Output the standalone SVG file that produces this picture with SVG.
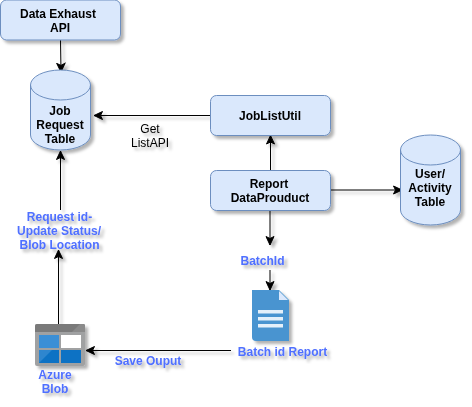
<svg xmlns="http://www.w3.org/2000/svg" width="472" height="407" viewBox="0 0 472 407">
<style>
.box{fill:#dae8fc;stroke:#6c8ebf;stroke-width:1}
.lbl{font:bold 12px "Liberation Sans",Arial,sans-serif;text-anchor:middle;fill:#000}
.blue{fill:#4f6fff}
.plain{font-weight:normal}
.conn{fill:none;stroke:#000;stroke-width:1}
</style>
<defs>
<filter id="sh" x="-20%" y="-20%" width="150%" height="150%">
<feDropShadow dx="3" dy="3" stdDeviation="1.6" flood-color="#000" flood-opacity="0.3"/>
</filter>
<marker id="arr" viewBox="0 0 10 10" refX="9.5" refY="5" markerWidth="10" markerHeight="10" markerUnits="userSpaceOnUse" orient="auto">
<path d="M1 1L9.5 5L1 9L3 5Z" fill="#000" stroke="#000"/>
</marker>
</defs>
<g id="connectors" filter="url(#sh)">
<path class="conn" marker-end="url(#arr)" d="M60.500 40L61 72"/>
<path class="conn" marker-end="url(#arr)" d="M210 115.500H94"/>
<path class="conn" marker-end="url(#arr)" d="M270.500 170V135.500"/>
<path class="conn" marker-end="url(#arr)" d="M330 190H402"/>
<path class="conn" marker-end="url(#arr)" d="M270 210V245"/>
<path class="conn" marker-end="url(#arr)" d="M270 270V290"/>
<path class="conn" marker-end="url(#arr)" d="M58.500 325V250"/>
<path class="conn" marker-end="url(#arr)" d="M60.500 210V151"/>
<path class="conn" marker-end="url(#arr)" d="M231 350.500H86"/>
</g>
<g id="data-exhaust" filter="url(#sh)">
<rect class="box" x="0.500" y="0" width="120" height="40" rx="6"/>
<text class="lbl" x="58" y="18">Data Exhaust</text><text class="lbl" x="60" y="32">API</text>
</g>
<g id="job-request" filter="url(#sh)">
<path class="box" d="M30.500 85A30 15 0 0 1 90.500 85V135A30 15 0 0 1 30.500 135Z"/>
<path class="box" style="fill:none" d="M30.500 85A30 15 0 0 0 90.500 85"/>
<text class="lbl" x="60" y="115">Job</text><text class="lbl" x="60" y="129">Request</text><text class="lbl" x="60" y="143">Table</text>
</g>
<g id="joblistutil" filter="url(#sh)">
<rect class="box" x="210.500" y="95.500" width="120" height="40" rx="6"/>
<text class="lbl" x="270" y="120">JobListUtil</text>
</g>
<g id="report" filter="url(#sh)">
<rect class="box" x="210.500" y="170.500" width="120" height="40" rx="6"/>
<text class="lbl" x="269" y="188">Report</text><text class="lbl" x="270" y="202">DataProuduct</text>
</g>
<g id="user-activity" filter="url(#sh)">
<path class="box" d="M400.500 150A30 15 0 0 1 460.500 150V210A30 15 0 0 1 400.500 210Z"/>
<path class="box" style="fill:none" d="M400.500 150A30 15 0 0 0 460.500 150"/>
<text class="lbl" x="430" y="178">User/</text><text class="lbl" x="430" y="192">Activity</text><text class="lbl" x="430" y="206">Table</text>
</g>
<g id="getlistapi" filter="url(#sh)">
<text class="lbl plain" x="150" y="133">Get</text><text class="lbl plain" x="150" y="147">ListAPI</text>
</g>
<g id="request-label" filter="url(#sh)">
<text class="lbl blue" x="59.500" y="221">Request id-</text><text class="lbl blue" x="59" y="235">Update Status/</text><text class="lbl blue" x="59.500" y="249">Blob Location</text>
</g>
<g id="azure-blob">
<g filter="url(#sh)">
<rect x="35" y="324" width="50" height="42" rx="2" fill="#a0a1a2"/>
<path d="M35 326a2 2 0 0 1 2-2H83a2 2 0 0 1 2 2V332H35Z" fill="#7a7a7a"/>
<path d="M72 332L80 324H83a2 2 0 0 1 2 2V332Z" fill="#8a8a8a"/>
<rect x="39" y="335" width="20" height="13" fill="#3a8fd6"/>
<rect x="61" y="335" width="20" height="13" fill="#fff"/>
<rect x="39" y="350" width="20" height="13" fill="#2f86cf"/>
<path d="M39 363L52 350H59V363Z" fill="#0a72c4"/>
<rect x="61" y="350" width="20" height="13" fill="#0a72c4"/>
</g>
<g filter="url(#sh)"><text class="lbl blue" x="55" y="379">Azure</text><text class="lbl blue" x="55" y="393">Blob</text></g>
</g>
<g id="save-label" filter="url(#sh)"><text class="lbl blue" x="148" y="365">Save Ouput</text></g>
<g id="batchid-label" filter="url(#sh)"><text class="lbl blue" x="262.500" y="265">BatchId</text></g>
<g id="batch-report">
<g filter="url(#sh)">
<path d="M252 290H279L289 300V341H256a4 4 0 0 1-4-4Z" fill="#4894d0"/>
<path d="M279 291L288 300H279Z" fill="#dae8fc"/>
<rect x="258" y="310" width="25" height="3.500" fill="#e4f0fa"/>
<rect x="258" y="317" width="25" height="3.500" fill="#e4f0fa"/>
<rect x="258" y="324" width="25" height="3.500" fill="#e4f0fa"/>
</g>
<g filter="url(#sh)"><text class="lbl blue" x="282.500" y="356">Batch id Report</text></g>
</g>
</svg>
